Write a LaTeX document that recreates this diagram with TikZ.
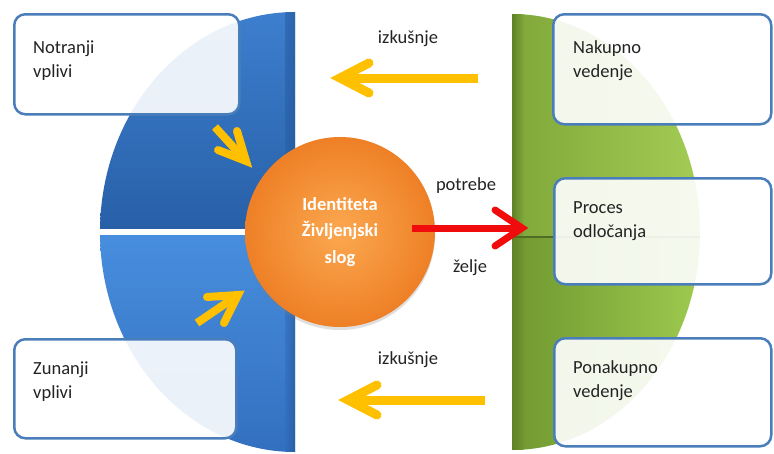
\documentclass[tikz,border=0pt]{standalone}
\usepackage{fontspec}
\setmainfont{Carlito}
\usetikzlibrary{shadows}

\definecolor{blueA}{RGB}{62,128,208}
\definecolor{blueB}{RGB}{40,96,168}
\definecolor{blueC}{RGB}{72,142,222}
\definecolor{blueD}{RGB}{50,110,190}
\definecolor{blueEdge}{RGB}{34,84,150}
\definecolor{greenA}{RGB}{128,168,58}
\definecolor{greenB}{RGB}{165,206,86}
\definecolor{greenC}{RGB}{112,152,48}
\definecolor{greenD}{RGB}{160,205,80}
\definecolor{greenEdge}{RGB}{95,130,38}
\definecolor{greenLine}{RGB}{80,110,35}
\definecolor{orangeIn}{RGB}{251,168,80}
\definecolor{orangeOut}{RGB}{238,128,38}
\definecolor{boxline}{RGB}{74,126,187}
\definecolor{arrowyellow}{RGB}{255,192,0}
\definecolor{arrowred}{RGB}{240,12,12}
\definecolor{txtgray}{RGB}{35,35,35}

\tikzset{
  panel/.style={draw=boxline, line width=2.5pt, rounded corners=11pt,
    fill=white, fill opacity=.9, anchor=north west, inner sep=0pt},
  txt/.style={font=\fontsize{18.5}{24}\selectfont, text=txtgray,
    align=left, inner sep=0pt},
  core/.style={circle, minimum size=190pt, inner sep=0pt,
    inner color=orangeIn, outer color=orangeOut,
    drop shadow={shadow xshift=0pt, shadow yshift=-3pt, opacity=.25},
    text=white, align=center,
    font=\bfseries\fontsize{18.5}{26.5}\selectfont},
  yshaft/.style={draw=arrowyellow, line width=9pt, line cap=butt},
  yhead/.style={draw=arrowyellow, line width=9pt, line cap=round, line join=miter},
  ysshaft/.style={draw=arrowyellow, line width=8pt, line cap=butt},
  yshead/.style={draw=arrowyellow, line width=8pt, line cap=round, line join=miter},
  rshaft/.style={draw=arrowred, line width=7pt, line cap=butt},
  rhead/.style={draw=arrowred, line width=7pt, line cap=round, line join=miter}
}

\begin{document}
\begin{tikzpicture}[x=1pt,y=-1pt]
\useasboundingbox (0,0) rectangle (774,453);
\fill[white] (0,0) rectangle (774,453);

% left half-disc, split into two quadrants
\begin{scope}
  \clip (295,232) ellipse [x radius=195, y radius=220];
  \shade[top color=blueA, bottom color=blueB] (90,0) rectangle (295,228);
  \shade[top color=blueC, bottom color=blueD] (90,235) rectangle (295,460);
  \shade[left color=blueB, right color=blueEdge, opacity=.6] (285,0) rectangle (295,228);
  \shade[left color=blueD, right color=blueEdge, opacity=.6] (285,235) rectangle (295,460);
\end{scope}

% right half-disc, split into two quadrants
\begin{scope}
  \clip (512,232) ellipse [x radius=188, y radius=218];
  \shade[left color=greenA, right color=greenB] (512,0) rectangle (710,237);
  \shade[left color=greenC, right color=greenD] (512,237) rectangle (710,460);
  \shade[left color=greenEdge, right color=greenA] (512,0) rectangle (524,237);
  \shade[left color=greenEdge, right color=greenC] (512,237) rectangle (524,460);
  \draw[greenLine, line width=1.2pt] (512,237) -- (710,237);
\end{scope}

% central circle
\node[core] (core) at (340,232) {Identiteta\\Življenjski\\slog};

% text panels
\node[panel, minimum width=225pt, minimum height=100pt] (notranji) at (13,13) {};
\node[panel, minimum width=222pt, minimum height=99pt] (zunanji) at (13,338) {};
\node[panel, minimum width=218pt, minimum height=110pt] (nakupno) at (552,13) {};
\node[panel, minimum width=217pt, minimum height=106pt] (proces) at (553,177) {};
\node[panel, minimum width=217pt, minimum height=108pt] (ponakupno) at (553,337) {};

\node[txt, anchor=west] (notranji-t) at (33,60.5) {Notranji\\vplivi};
\node[txt, anchor=west] (zunanji-t) at (33,381.5) {Zunanji\\vplivi};
\node[txt, anchor=west] (nakupno-t) at (573,60.5) {Nakupno\\vedenje};
\node[txt, anchor=west] (proces-t) at (573,221) {Proces\\odločanja};
\node[txt, anchor=west] (ponakupno-t) at (573,381) {Ponakupno\\vedenje};

% arrow labels
\node[txt, anchor=base] (izk1) at (408,43) {izkušnje};
\node[txt, anchor=base] (izk2) at (408,364) {izkušnje};
\node[txt, anchor=base] (potrebe) at (466,190) {potrebe};
\node[txt, anchor=base] (zelje) at (470,272) {želje};

% arrow end points
\coordinate (t1) at (478,78);   \coordinate (h1) at (340,78);
\coordinate (a1u) at (369,63);  \coordinate (a1d) at (369,93);
\coordinate (t2) at (485,400);  \coordinate (h2) at (348,400);
\coordinate (a2u) at (377,385); \coordinate (a2d) at (377,415);
\coordinate (rt) at (412,228);  \coordinate (rh) at (522,228);
\coordinate (rau) at (495,210); \coordinate (rad) at (495,246);
\coordinate (s1t) at (215,127); \coordinate (s1h) at (246,161);
\coordinate (s1a) at (237,131); \coordinate (s1b) at (218,150);
\coordinate (s2t) at (197,323); \coordinate (s2h) at (238,295);
\coordinate (s2a) at (207,297); \coordinate (s2b) at (224,323);

% experience arrows
\draw[yshaft] (t1) -- (h1);
\draw[yhead] (a1u) -- (h1) -- (a1d);
\draw[yshaft] (t2) -- (h2);
\draw[yhead] (a2u) -- (h2) -- (a2d);

% influence arrows
\draw[ysshaft] (s1t) -- (s1h);
\draw[yshead] (s1a) -- (s1h) -- (s1b);
\draw[ysshaft] (s2t) -- (s2h);
\draw[yshead] (s2a) -- (s2h) -- (s2b);

% needs / wants arrow
\draw[rshaft] (rt) -- (rh);
\draw[rhead] (rau) -- (rh) -- (rad);
\end{tikzpicture}
\end{document}
